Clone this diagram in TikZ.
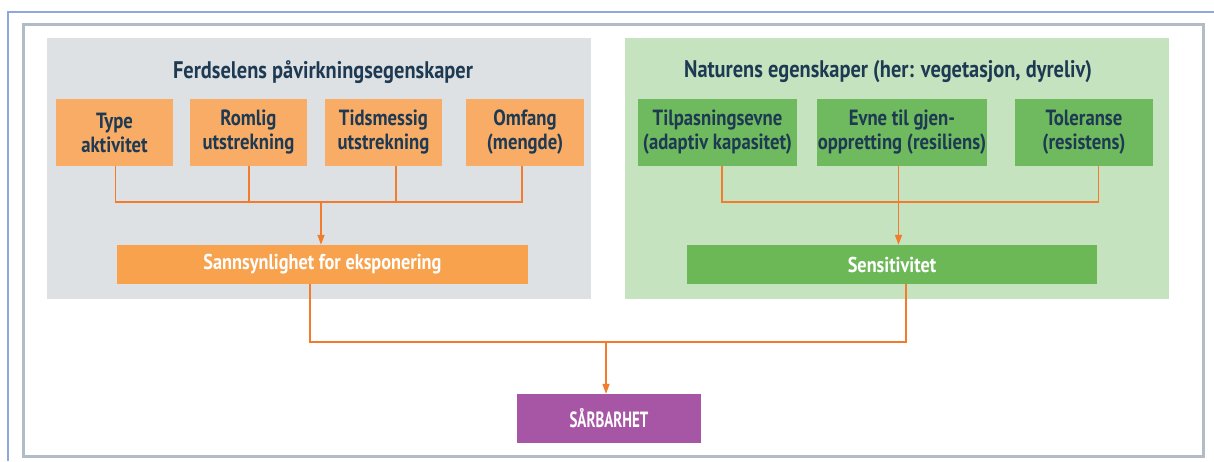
\documentclass[tikz,border=0pt]{standalone}
\usepackage{fontspec}
\setmainfont{PT Sans}[FakeStretch=0.85]
\newfontfamily\narrowcaps{PT Sans}[FakeStretch=0.68]
\usetikzlibrary{arrows.meta}
\definecolor{framegray}{HTML}{B3BBC5}
\definecolor{frameblue}{HTML}{8FA8DC}
\definecolor{panelgray}{HTML}{DDE1E4}
\definecolor{panelgreen}{HTML}{C6E3C0}
\definecolor{boxorange}{HTML}{F9AC66}
\definecolor{barorange}{HTML}{F8A24E}
\definecolor{boxgreen}{HTML}{6FB95F}
\definecolor{bargreen}{HTML}{6CB857}
\definecolor{purple}{HTML}{A656A4}
\definecolor{textnavy}{HTML}{1E3A52}
\definecolor{linkorange}{HTML}{F27B2C}
\tikzset{
  box/.style={inner sep=0pt, font=\bfseries\fontsize{22}{24}\selectfont, text=textnavy, align=center},
  bar/.style={inner sep=0pt, font=\bfseries\fontsize{21.5}{24}\selectfont, text=white, align=center},
  ttl/.style={inner sep=0pt, font=\bfseries\fontsize{24}{28}\selectfont, text=textnavy},
  link/.style={draw=linkorange, line width=1.6pt},
  arr/.style={link, -{Triangle[length=10pt,width=7pt]}},
}
\begin{document}
\begin{tikzpicture}[x=1pt,y=-1pt]
\useasboundingbox (0,0) rectangle (1214,461);
% frames
\draw[frameblue, line width=1.5pt] (8,461) -- (8,12) -- (1214,12);
\draw[framegray, line width=3pt] (23.5,24.5) rectangle (1203,456);
% panels
\fill[panelgray] (47,38) rectangle (591,299);
\fill[panelgreen] (625,38) rectangle (1169,299);
\node[ttl] (t1) at (323,72) {Ferdselens påvirkningsegenskaper};
\node[ttl] (t2) at (888,72) {Naturens egenskaper (her: vegetasjon, dyreliv)};
% orange boxes
\node[box, fill=boxorange, minimum width=117pt, minimum height=67pt] (o1) at (114.5,132.5) {Type\\aktivitet};
\node[box, fill=boxorange, minimum width=117pt, minimum height=67pt] (o2) at (248.5,132.5) {Romlig\\utstrekning};
\node[box, fill=boxorange, minimum width=117pt, minimum height=67pt] (o3) at (383.5,132.5) {Tidsmessig\\utstrekning};
\node[box, fill=boxorange, minimum width=118pt, minimum height=67pt] (o4) at (525,132.5) {Omfang\\(mengde)};
\node[bar, fill=barorange, minimum width=411pt, minimum height=39pt] (s) at (322.5,264.5) {Sannsynlighet for eksponering};
% green boxes
\node[box, fill=boxgreen, minimum width=159pt, minimum height=67pt] (g1) at (717.5,132.5) {Tilpasningsevne\\(adaptiv kapasitet)};
\node[box, fill=boxgreen, minimum width=170pt, minimum height=67pt] (g2) at (902,132.5) {Evne til gjen-\\oppretting (resiliens)};
\node[box, fill=boxgreen, minimum width=138pt, minimum height=67pt] (g3) at (1084,132.5) {Toleranse\\(resistens)};
\node[bar, fill=bargreen, minimum width=410pt, minimum height=39pt] (e) at (892,264.5) {Sensitivitet};
% result
\node[bar, fill=purple, minimum width=184pt, minimum height=49pt, font=\narrowcaps\bfseries\fontsize{22}{24}\selectfont] (v) at (609,418.5) {SÅRBARHET};
% left connectors
\coordinate (jl) at (321,202);
\draw[link] (o1.south -| 115.5,0) |- (jl);
\draw[link] (o4.south -| 522,0) |- (jl);
\draw[link] (o2.south -| 249,0) -- (249,202);
\draw[link] (o3.south -| 396,0) -- (396,202);
\draw[arr] (jl) -- (s.north -| jl);
% right connectors
\coordinate (jr) at (898.5,202);
\draw[link] (g1.south -| 722,0) |- (jr);
\draw[link] (g3.south -| 1098.5,0) |- (jr);
\draw[arr] (g2.south -| jr) -- (e.north -| jr);
% bottom connectors
\coordinate (jb) at (606,342);
\draw[link] (s.south -| 310,0) |- (jb);
\draw[link] (e.south -| 906,0) |- (jb);
\draw[arr] (jb) -- (v.north -| jb);
\end{tikzpicture}
\end{document}
